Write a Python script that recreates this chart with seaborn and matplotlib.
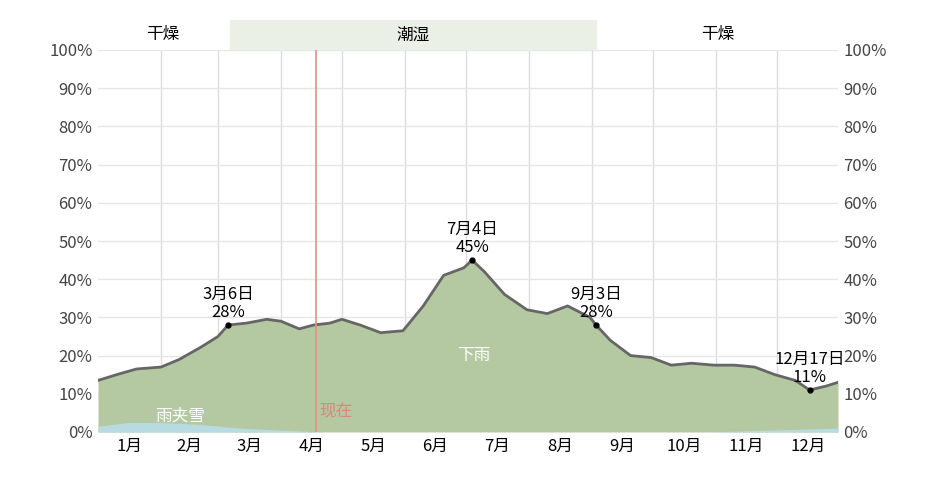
import matplotlib.pyplot as plt
import seaborn as sns
import pandas as pd
import numpy as np

plt.rcParams['font.family'] = ['Noto Sans CJK SC', 'DejaVu Sans']

# day of year -> chance of rain (%)
rain_days = [0, 9, 19, 31, 40, 50, 59, 64, 73, 83, 90, 99, 106, 114, 120, 129, 139, 150,
             160, 170, 180, 184, 190, 200, 211, 221, 231, 242, 245, 252, 262, 272, 282,
             292, 303, 313, 323, 333, 343, 350, 358, 364]
rain_pct = [13.5, 15, 16.5, 17, 19, 22, 25, 28, 28.5, 29.5, 29, 27, 28, 28.5, 29.5, 28, 26, 26.5,
            33, 41, 43, 45, 42, 36, 32, 31, 33, 30, 28, 24, 20, 19.5, 17.5,
            18, 17.5, 17.5, 17, 15, 13.5, 11, 12, 13]
mix_days = [0, 15, 30, 50, 70, 90, 110, 130, 300, 330, 364]
mix_pct = [1.5, 2.5, 2.5, 2, 1, 0.5, 0, 0, 0, 0.5, 1]

months = ['1月', '2月', '3月', '4月', '5月', '6月', '7月', '8月', '9月', '10月', '11月', '12月']
month_starts = [0, 31, 59, 90, 120, 151, 181, 212, 243, 273, 304, 334, 365]
peaks = [(64, 28, '3月6日\n28%'), (184, 45, '7月4日\n45%'), (245, 28, '9月3日\n28%'), (350, 11, '12月17日\n11%')]
today = 107

days = np.arange(365)
rain = np.interp(days, rain_days, rain_pct)
mix = np.interp(days, mix_days, mix_pct)
df = pd.DataFrame({'day': days, 'rain': rain, 'mix': mix})

fig = plt.figure(figsize=(9.41, 5), dpi=100)
ax = fig.add_axes([98 / 941, 68 / 500, 740 / 941, 382 / 500])

ax.fill_between(df['day'], 0, df['rain'], color='#b4c8a2', lw=0)
sns.lineplot(data=df, x='day', y='rain', ax=ax, color='#666666', lw=2)
ax.fill_between(df['day'], 0, df['mix'], color='#b7dbe0', lw=0)

for d in month_starts[1:-1]:
    ax.axvline(d, color='#dddddd', lw=1, zorder=0)
for y in range(10, 101, 10):
    ax.axhline(y, color='#e6e6e6', lw=1, zorder=0)
ax.axvline(today, color='#e8907f', lw=1.2)
ax.text(today + 2, 3, '现在', color='#d98877', fontsize=12, va='bottom')
ax.text(28, 2, '雨夹雪', color='white', fontsize=12, va='bottom')
ax.text(185, 20, '下雨', color='white', fontsize=12, ha='center', va='center')

for d, v, lab in peaks:
    ax.plot(d, v, 'o', color='black', ms=3.5)
    ax.text(d, v + 1, lab, ha='center', va='bottom', fontsize=12, linespacing=1.1)

ax.set_xlim(0, 364)
ax.set_ylim(0, 100)
ax.set_xticks([(a + b) / 2 for a, b in zip(month_starts[:-1], month_starts[1:])])
ax.set_xticklabels(months, fontsize=12)
ax.set_yticks(range(0, 101, 10))
ax.set_yticklabels([f'{v}%' for v in range(0, 101, 10)], fontsize=12, color='#444444')
ax.tick_params(length=0, labelright=True, pad=4)
ax.set_xlabel('')
ax.set_ylabel('')
for s in ax.spines.values():
    s.set_visible(False)

# dry / humid band
band = fig.add_axes([98 / 941, 450 / 500, 740 / 941, 30 / 500], sharex=ax)
band.axvspan(65, 245, color='#ebf0e6')
band.text(32, 0.5, '干燥', ha='center', va='center', fontsize=12)
band.text(155, 0.5, '潮湿', ha='center', va='center', fontsize=12)
band.text(305, 0.5, '干燥', ha='center', va='center', fontsize=12)
band.set_ylim(0, 1)
band.axis('off')

fig.savefig('out.png', dpi=100)
